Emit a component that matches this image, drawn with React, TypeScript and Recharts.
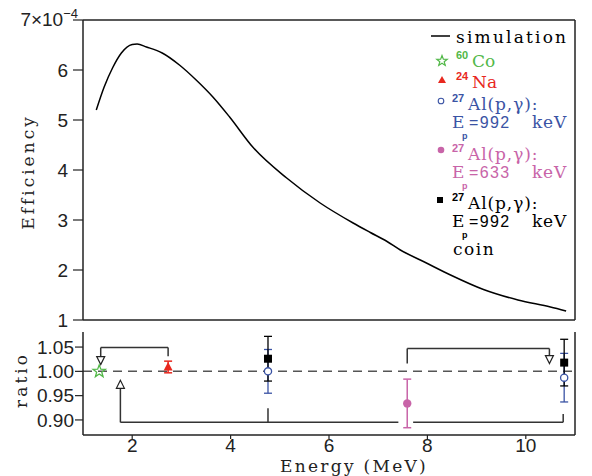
import React from 'react'
import { LineChart, Line, ScatterChart, Scatter, XAxis, YAxis, ReferenceLine, ReferenceDot, ErrorBar } from 'recharts'

// simulated efficiency curve (units of 1e-4)
const simEnergy = [1.27, 1.43, 1.6, 1.78, 2.0, 2.1, 2.29, 2.61, 2.96, 3.3, 3.64, 3.98, 4.45, 5.14, 5.82, 6.49, 6.84, 7.18, 7.45, 7.96, 8.47, 9.14, 9.84, 10.5, 10.82]
const simEfficiency = [5.2, 5.66, 6.04, 6.34, 6.51, 6.52, 6.46, 6.34, 6.1, 5.8, 5.46, 5.06, 4.46, 3.84, 3.34, 2.94, 2.75, 2.57, 2.4, 2.15, 1.9, 1.61, 1.4, 1.26, 1.18]

const effTicks = [1, 2, 3, 4, 5, 6, 7]
const energyTicks = [2, 4, 6, 8, 10]
const ratioTicks = [0.9, 0.95, 1.0, 1.05]

// measured / simulated ratios
const coEnergy = [1.33]
const coRatio = [1.0]
const naEnergy = [2.73]
const naRatio = [1.009]
const naErr = [0.012]
const al992Energy = [4.76, 10.78]
const al992Ratio = [1.0, 0.987]
const al992Err = [0.045, 0.05]
const al633Energy = [7.59]
const al633Ratio = [0.934]
const al633Err = [0.05]
const coinEnergy = [4.76, 10.78]
const coinRatio = [1.026, 1.018]
const coinErr = [0.046, 0.048]

// connector brackets in (energy, ratio)
const bracketPaths = [
  [[2.73, 1.031], [2.73, 1.049], [1.36, 1.049], [1.36, 1.029]],
  [[4.76, 0.924], [4.76, 0.895]],
  [[1.76, 0.966], [1.76, 0.895], [7.41, 0.895]],
  [[7.71, 0.895], [10.76, 0.895], [10.76, 0.912]],
  [[7.59, 1.016], [7.59, 1.047], [10.48, 1.047], [10.48, 1.031]],
]
const arrowTips = [
  { x: 1.36, y: 1.014, dir: 'down' },
  { x: 1.76, y: 0.9815, dir: 'up' },
  { x: 10.48, y: 1.016, dir: 'down' },
]

const SERIF = "'DejaVu Serif', serif"
const SANS = "'Liberation Sans', Arial, sans-serif"
const FRAME = '#222'
const GREEN = '#52b848'
const RED = '#e8281e'
const BLUE = '#3a53a4'
const MAGENTA = '#c864a8'

const simData = simEnergy.map((e, i) => ({ x: e, y: simEfficiency[i] }))
const toPoints = (xs: number[], ys: number[], errs?: number[]) =>
  xs.map((x, i) => ({ x, y: ys[i], err: errs ? errs[i] : 0 }))

const starPoints = (cx: number, cy: number, ro: number, ri: number) => {
  const pts: string[] = []
  for (let i = 0; i < 10; i++) {
    const r = i % 2 === 0 ? ro : ri
    const a = -Math.PI / 2 + (i * Math.PI) / 5
    pts.push(`${cx + r * Math.cos(a)},${cy + r * Math.sin(a)}`)
  }
  return pts.join(' ')
}

const StarShape = ({ cx, cy }: any) => (
  <polygon points={starPoints(cx, cy, 6.5, 2.7)} fill="none" stroke={GREEN} strokeWidth={1.3} />
)
const TriShape = ({ cx, cy }: any) => (
  <polygon points={`${cx},${cy - 5} ${cx - 4.5},${cy + 3.5} ${cx + 4.5},${cy + 3.5}`} fill={RED} />
)
const OpenCircle = ({ cx, cy }: any) => <circle cx={cx} cy={cy} r={3.6} fill="#fff" stroke={BLUE} strokeWidth={1.3} />
const FilledCircle = ({ cx, cy }: any) => <circle cx={cx} cy={cy} r={4.2} fill={MAGENTA} />
const SquareShape = ({ cx, cy }: any) => <rect x={cx - 4} y={cy - 4} width={8} height={8} fill="#000" />

const ArrowHead = (dir: string) => ({ cx, cy }: any) => {
  const s = dir === 'down' ? -1 : 1
  return (
    <polygon
      points={`${cx},${cy} ${cx - 4},${cy + s * 8} ${cx + 4},${cy + s * 8}`}
      fill="#fff"
      stroke={FRAME}
      strokeWidth={1.2}
    />
  )
}

const EffTick = ({ x, y, payload }: any) => {
  if (payload.value === 7) {
    return (
      <text x={x + 10} y={y} dy={6} textAnchor="end" fontFamily={SANS} fontSize={19} fill={FRAME}>
        7×10<tspan fontSize={13} dy={-8}>−4</tspan>
      </text>
    )
  }
  return (
    <text x={x} y={y} dy={7} textAnchor="end" fontFamily={SANS} fontSize={19} fill={FRAME}>
      {payload.value}
    </text>
  )
}

const axisLine = { stroke: FRAME, strokeWidth: 1.5 }
const tickLine = { stroke: FRAME, strokeWidth: 1.2 }

function LegendOverlay() {
  const sup = (x: number, y: number, t: string, c: string, fs = 11) => (
    <text x={x} y={y} fontFamily={SANS} fontWeight="bold" fontSize={fs} fill={c}>{t}</text>
  )
  const word = (x: number, y: number, t: string, c: string, ls = 1) => (
    <text x={x} y={y} fontFamily={SERIF} fontSize={17} letterSpacing={ls} fill={c}>{t}</text>
  )
  const num = (x: number, y: number, t: string, c: string) => (
    <text x={x} y={y} fontFamily={SANS} fontSize={16} letterSpacing={1.4} fill={c}>{t}</text>
  )
  const epLine = (y: number, val: string, c: string) => (
    <g>
      {word(452, y, 'E', c)}
      {sup(462, y + 11, 'p', c, 9)}
      {num(469, y, '=' + val, c)}
      {word(532, y, 'keV', c, 0.8)}
    </g>
  )
  const alLine = (y: number, c: string) => (
    <g>
      {sup(452, y - 8, '27', c)}
      {word(468, y, 'Al(p,γ):', c, 0.9)}
    </g>
  )
  return (
    <svg width={592} height={476} style={{ position: 'absolute', left: 0, top: 0 }}>
      <line x1={431} x2={450} y1={36} y2={36} stroke="#000" strokeWidth={1.5} />
      {word(456, 43, 'simulation', '#000', 2.2)}

      <polygon points={starPoints(442, 61, 5.5, 2.3)} fill="none" stroke={GREEN} strokeWidth={1.2} />
      {sup(456, 59, '60', GREEN)}
      {word(472, 67, 'Co', GREEN, 0)}

      <polygon points={`442,76 438,83 446,83`} fill={RED} />
      {sup(456, 80, '24', RED)}
      {word(472, 88, 'Na', RED, 0)}

      <circle cx={441} cy={101} r={2.8} fill="#fff" stroke={BLUE} strokeWidth={1.1} />
      {alLine(110, BLUE)}
      {epLine(128, '992', BLUE)}

      <circle cx={441} cy={150} r={3.3} fill={MAGENTA} />
      {alLine(160, MAGENTA)}
      {epLine(178, '633', MAGENTA)}

      <rect x={437} y={197} width={6} height={6} fill="#000" />
      {alLine(209, '#000')}
      {epLine(227, '992', '#000')}
      {word(453, 255, 'coin', '#000', 1.5)}

      <text transform="translate(34,172) rotate(-90)" textAnchor="middle" fontFamily={SERIF} fontSize={17} letterSpacing={3} fill={FRAME}>
        Efficiency
      </text>
      <text transform="translate(27,380) rotate(-90)" textAnchor="middle" fontFamily={SERIF} fontSize={17} letterSpacing={3} fill={FRAME}>
        ratio
      </text>
      <text x={354} y={472} textAnchor="middle" fontFamily={SERIF} fontSize={17} letterSpacing={2.3} fill={FRAME}>
        Energy (MeV)
      </text>
    </svg>
  )
}

export default function App() {
  return (
    <div style={{ position: 'absolute', left: 0, top: 0, width: 592, height: 476, background: '#fff' }}>
      <div style={{ position: 'absolute', left: 0, top: 0 }}>
        <LineChart width={592} height={332} data={simData} margin={{ top: 10, right: 0, bottom: 0, left: 0 }}>
          <XAxis dataKey="x" type="number" domain={[1, 11]} ticks={energyTicks} allowDataOverflow
            height={12} tickSize={8} tick={false} axisLine={axisLine} tickLine={tickLine} />
          <XAxis xAxisId="top" orientation="top" dataKey="x" type="number" domain={[1, 11]} ticks={energyTicks} allowDataOverflow
            height={10} tickSize={10} tick={false} axisLine={axisLine} tickLine={tickLine} />
          <YAxis type="number" domain={[1, 7]} ticks={effTicks} interval={0} allowDataOverflow width={83}
            tickSize={10} tickMargin={5} tick={<EffTick />} axisLine={axisLine} tickLine={tickLine} />
          <YAxis yAxisId="r" orientation="right" type="number" domain={[1, 7]} ticks={effTicks} allowDataOverflow width={17}
            tickSize={10} tick={false} axisLine={axisLine} tickLine={tickLine} />
          <Line dataKey="y" type="monotone" stroke="#000" strokeWidth={1.5} dot={false} isAnimationActive={false} />
        </LineChart>
      </div>
      <div style={{ position: 'absolute', left: 0, top: 322 }}>
        <ScatterChart width={592} height={154} margin={{ top: 10, right: 0, bottom: 0, left: 0 }}>
          <XAxis dataKey="x" type="number" domain={[1, 11]} ticks={energyTicks} interval={0} allowDataOverflow
            height={41} tickSize={4} tickMargin={0} axisLine={axisLine} tickLine={tickLine}
            tick={{ fontFamily: SANS, fontSize: 19, fill: FRAME }} />
          <XAxis xAxisId="top" orientation="top" dataKey="x" type="number" domain={[1, 11]} ticks={energyTicks} allowDataOverflow
            height={0} tick={false} tickLine={false} axisLine={axisLine} />
          <YAxis dataKey="y" type="number" domain={[0.869, 1.081]} ticks={ratioTicks} interval={0} allowDataOverflow width={83}
            tickSize={8} tickMargin={1} tickFormatter={(v: number) => v.toFixed(2)} axisLine={axisLine} tickLine={tickLine}
            tick={{ fontFamily: SANS, fontSize: 19, fill: FRAME }} />
          <YAxis yAxisId="r" orientation="right" dataKey="y" type="number" domain={[0.869, 1.081]} ticks={ratioTicks} allowDataOverflow width={17}
            tickSize={4} tick={false} axisLine={axisLine} tickLine={tickLine} />

          <ReferenceLine y={1} stroke="#555" strokeWidth={1.5} strokeDasharray="9 6" />
          {bracketPaths.map((path, pi) =>
            path.slice(1).map((p, i) => (
              <ReferenceLine
                key={`b${pi}-${i}`}
                segment={[{ x: path[i][0], y: path[i][1] }, { x: p[0], y: p[1] }]}
                stroke="#333"
                strokeWidth={1.5}
              />
            ))
          )}
          {arrowTips.map((a, i) => (
            <ReferenceDot key={`a${i}`} x={a.x} y={a.y} r={4} shape={ArrowHead(a.dir)} />
          ))}

          <Scatter data={toPoints(coEnergy, coRatio)} shape={<StarShape />} isAnimationActive={false} />
          <Scatter data={toPoints(naEnergy, naRatio, naErr)} shape={<TriShape />} isAnimationActive={false}>
            <ErrorBar dataKey="err" direction="y" width={4} stroke={RED} strokeWidth={1.5} />
          </Scatter>
          <Scatter data={toPoints(al633Energy, al633Ratio, al633Err)} shape={<FilledCircle />} isAnimationActive={false}>
            <ErrorBar dataKey="err" direction="y" width={4} stroke={MAGENTA} strokeWidth={1.5} />
          </Scatter>
          <Scatter data={toPoints(al992Energy, al992Ratio, al992Err)} shape={<OpenCircle />} isAnimationActive={false}>
            <ErrorBar dataKey="err" direction="y" width={4} stroke={BLUE} strokeWidth={1.3} />
          </Scatter>
          <Scatter data={toPoints(coinEnergy, coinRatio, coinErr)} shape={<SquareShape />} isAnimationActive={false}>
            <ErrorBar dataKey="err" direction="y" width={4} stroke="#000" strokeWidth={1.3} />
          </Scatter>
        </ScatterChart>
      </div>
      <LegendOverlay />
    </div>
  )
}
